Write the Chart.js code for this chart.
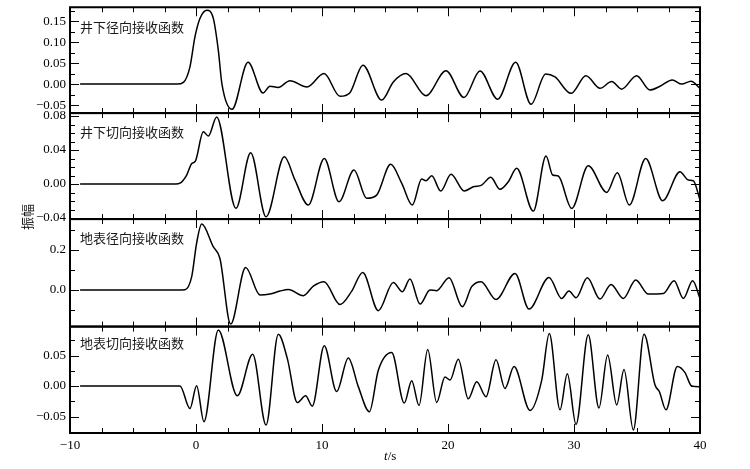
<!DOCTYPE html>
<html><head><meta charset="utf-8">
<script src="https://cdn.jsdelivr.net/npm/chart.js@4"></script>
<style>
html,body{margin:0;padding:0;background:#fff;}
#wrap{position:relative;width:750px;height:469px;overflow:hidden;}
#c{position:absolute;left:0;top:0;}
.lbl{position:absolute;font-family:"Noto Sans CJK SC","Noto Sans CJK JP",sans-serif;font-size:13px;line-height:13px;color:#1a1a1a;white-space:nowrap;}
#ytitle{position:absolute;left:7px;top:209px;width:40px;height:16px;line-height:16px;text-align:center;font-family:"Noto Sans CJK SC",sans-serif;font-size:13px;color:#1a1a1a;transform:rotate(-90deg);}
#xtitle{position:absolute;left:384px;top:449px;font-family:"Liberation Serif","DejaVu Serif",serif;font-size:13px;line-height:14px;color:#000;}
</style></head>
<body>
<div id="wrap">
<canvas id="c" width="750" height="469"></canvas>
<div class="lbl" id="l1" style="left:80px;top:20px"></div>
<div class="lbl" id="l2" style="left:80px;top:125px"></div>
<div class="lbl" id="l3" style="left:80px;top:231px"></div>
<div class="lbl" id="l4" style="left:80px;top:336px"></div>
<div id="ytitle">振幅</div>
<div id="xtitle"><i>t</i>/s</div>
</div>
<script>
// ---------- data ----------
const panelNames = ['井下径向接收函数','井下切向接收函数','地表径向接收函数','地表切向接收函数'];
const xMajor = [-10,0,10,20,30,40];
const xMinor = [-7.5,-5,-2.5,2.5,5,7.5,12.5,15,17.5,22.5,25,27.5,32.5,35,37.5];

const t1 = [-9.2,-1.5,-1.0,-0.48,-0.08,0.32,0.87,1.37,1.77,2.06,2.86,4.13,5.32,5.87,6.51,7.46,8.81,10.16,11.43,12.2,13.25,14.74,15.66,16.67,18.25,19.84,21.27,22.54,23.94,25.37,26.59,27.75,28.49,29.76,30.95,32.06,32.99,33.78,34.97,36.03,36.83,37.8,38.55,39.29,40];
const a1 = [0,0,0.004,0.041,0.113,0.157,0.176,0.157,0.081,0,-0.06,0.052,-0.021,-0.005,-0.008,0.008,-0.007,0.025,-0.029,-0.021,0.045,-0.038,0.005,0.025,-0.028,0.032,-0.032,0.031,-0.036,0.052,-0.048,0.024,0.017,-0.022,0.020,-0.010,0.006,-0.012,0.020,-0.014,-0.005,0.010,0,0.007,-0.010];

const t2 = [-9.2,-1.6,-1.27,-0.74,-0.35,-0.05,0.58,0.98,1.64,3.17,4.34,5.56,7.01,7.86,8.91,10.18,11.35,12.54,13.55,14.34,15.45,16.33,17.17,17.91,18.25,18.71,19.42,20.24,21.29,22.01,22.67,23.39,24.13,24.79,25.45,26.77,27.78,28.31,28.75,29.82,31.13,32.6,33.44,34.39,35.69,37.04,38.41,39.07,39.47,40];
const a2 = [0,0,0.001,0.0106,0.024,0.027,0.0615,0.0565,0.079,-0.0286,0.0368,-0.0385,0.032,0.0047,-0.0247,0.030,-0.0208,0.0165,-0.0168,-0.013,0.0232,0.0008,-0.0247,0.0059,0.0039,0.0098,-0.0082,0.0114,-0.0082,-0.0032,-0.0012,0.0079,-0.0062,0.0027,0.0185,-0.0318,0.0329,0.0106,0.0094,-0.0286,0.0215,-0.0098,0.0133,-0.0247,0.030,-0.0196,0.0145,0.0047,0.0039,-0.0188];

const t3 = [-9.2,-1.5,-0.87,-0.34,0.05,0.45,1.37,1.9,2.75,3.94,5.08,5.87,6.67,7.33,8.52,9.31,10.16,11.43,12.36,13.23,14.47,15.66,16.38,16.98,17.78,18.57,19.1,20.08,21.14,21.88,22.62,23.81,25.32,26.43,28.02,29.02,29.6,30.16,31.06,32.06,32.94,33.91,34.9,35.9,37.09,37.94,38.68,39.42,40];
const a3 = [0,0,0.002,0.067,0.235,0.33,0.217,0.158,-0.17,0.113,-0.025,-0.02,-0.005,0.003,-0.028,0.02,0.042,-0.072,-0.005,0.088,-0.103,0.038,-0.008,0.055,-0.07,0,-0.003,0.062,-0.083,0.017,0.042,-0.047,0.083,-0.095,0.063,-0.042,-0.005,-0.038,0.062,-0.045,0.028,-0.042,0.05,-0.02,-0.017,0.047,-0.042,0.047,-0.042];

const t4 = [-9.2,-1.27,-0.48,0.05,0.63,1.77,3.28,4.5,5.56,6.53,7.25,8.04,8.7,9.23,10.18,11.16,12.09,12.88,13.76,14.47,15.53,16.53,17.12,17.7,18.39,19.1,19.76,20.16,20.82,21.61,22.28,23.02,23.81,24.52,25.24,26.51,27.44,28.04,28.89,29.47,30.16,31.13,31.98,32.67,33.39,33.97,34.71,35.56,36.43,36.77,37.3,38.2,38.81,39.34,40];
const a4 = [0,0,-0.037,0.0005,-0.0585,0.092,-0.016,0.052,-0.064,0.085,0.045,-0.027,-0.016,-0.033,0.066,-0.009,0.046,-0.001,-0.042,0.026,0.055,-0.028,0.0087,-0.032,0.060,-0.027,0.015,0.0098,0.044,-0.021,0.007,-0.0175,0.043,-0.004,0.032,-0.040,0.0098,0.086,-0.039,0.020,-0.063,0.084,-0.036,0.051,-0.031,0.027,-0.072,0.085,0.0016,-0.009,-0.039,0.032,0.022,0,-0.001];

const yLabels1 = [-0.05,0,0.05,0.10,0.15];
const yLabels2 = [-0.04,0,0.04,0.08];
const yLabels3 = [0,0.2];
const yLabels4 = [-0.05,0,0.05];
const yMinor1 = [-0.025,0.025,0.075,0.125,0.175];
const yMinor2 = [-0.03,-0.02,-0.01,0.01,0.02,0.03,0.05,0.06,0.07];
const yMinor3 = [-0.1,0.1,0.3];
const yMinor4 = [-0.075,-0.025,0.025,0.075];
const yRange1 = [-0.069,0.183];
const yRange2 = [-0.0412,0.0835];
const yRange3 = [-0.1825,0.355];
const yRange4 = [-0.077,0.0975];

// ---------- build ----------
const times = [t1,t2,t3,t4];
const amps = [a1,a2,a3,a4];
const yLabels = [yLabels1,yLabels2,yLabels3,yLabels4];
const yMinor = [yMinor1,yMinor2,yMinor3,yMinor4];
const yRanges = [yRange1,yRange2,yRange3,yRange4];
const yDecimals = [2,2,1,2];
const panelPx = [420,850,200,610]; // px per unit, for panel weights

panelNames.forEach((n,i)=>{document.getElementById('l'+(i+1)).textContent=n;});

function fmt(v,d){ return (v < 0 ? '\u2212' : '') + Math.abs(v).toFixed(d); }

const serifX = {family:'"Liberation Serif","DejaVu Serif",serif', size:13, lineHeight:1};
const serifY = {family:'"Liberation Serif","DejaVu Serif",serif', size:13, lineHeight:0.5};

const scales = {
  x: {
    type:'linear', min:-10, max:40,
    afterBuildTicks: s => { s.ticks = xMajor.map(v=>({value:v})); },
    afterFit: s => { s.height = 36; },
    grid:{display:false, drawTicks:false},
    border:{display:false},
    ticks:{autoSkip:false, maxRotation:0, padding:6, color:'#000', font:serifX, callback:v=>fmt(v,0)}
  }
};
for (let i = 3; i >= 0; i--) {
  const r = yRanges[i];
  scales['y'+(i+1)] = {
    type:'linear', position:'left', stack:'panels',
    stackWeight: (r[1]-r[0])*panelPx[i],
    min:r[0], max:r[1],
    afterBuildTicks: s => { s.ticks = yLabels[i].map(v=>({value:v})); },
    afterFit: s => { s.width = 70; },
    grid:{display:false, drawTicks:false},
    border:{display:false},
    ticks:{autoSkip:false, padding:4, color:'#000', font:serifY, callback:v=>fmt(v,yDecimals[i])}
  };
}

const framePlugin = {
  id:'frames',
  afterDatasetsDraw(chart){
    const {ctx, chartArea:ca} = chart;
    const xs = chart.scales.x;
    ctx.save();
    ctx.strokeStyle = '#000';
    for (let i = 0; i < 4; i++) {
      const s = chart.scales['y'+(i+1)];
      const top = s.top, bot = s.bottom;
      ctx.lineWidth = 1;
      ctx.beginPath();
      const xt = (vals,len)=>vals.forEach(v=>{
        const px = Math.round(xs.getPixelForValue(v))+0.5;
        ctx.moveTo(px,top); ctx.lineTo(px,top+len);
        ctx.moveTo(px,bot); ctx.lineTo(px,bot-len);
      });
      const yt = (vals,len)=>vals.forEach(v=>{
        const py = Math.round(s.getPixelForValue(v))+0.5;
        ctx.moveTo(ca.left,py); ctx.lineTo(ca.left+len,py);
        ctx.moveTo(ca.right,py); ctx.lineTo(ca.right-len,py);
      });
      xt(xMajor,9); xt(xMinor,5);
      yt(yLabels[i],9); yt(yMinor[i],5);
      ctx.stroke();
      ctx.lineWidth = 2;
      ctx.strokeRect(ca.left, top, ca.right-ca.left, bot-top);
    }
    ctx.restore();
  }
};

new Chart(document.getElementById('c'), {
  type:'line',
  data:{
    datasets: times.map((tt,i)=>({
      data: tt.map((t,j)=>({x:t, y:amps[i][j]})),
      yAxisID:'y'+(i+1),
      borderColor:'#000', borderWidth:1.5,
      pointRadius:0, fill:false,
      cubicInterpolationMode:'monotone'
    }))
  },
  options:{
    responsive:false, animation:false,
    plugins:{legend:{display:false}, tooltip:{enabled:false}},
    layout:{padding:{top:7, right:50, left:0, bottom:0}},
    scales
  },
  plugins:[framePlugin]
});
</script>
</body></html>
